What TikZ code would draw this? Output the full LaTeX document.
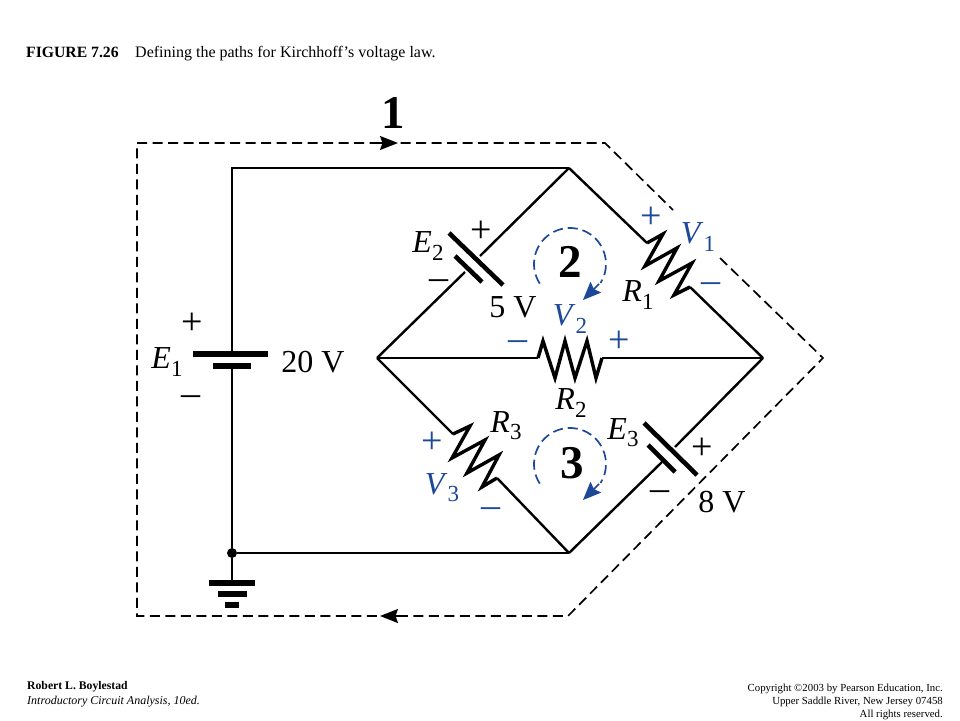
\documentclass[tikz,border=0pt]{standalone}
\usepackage{fontspec}
\setmainfont{Liberation Serif}
\usetikzlibrary{arrows.meta}
\definecolor{loopblue}{RGB}{28,72,152}
\newcommand{\subl}[2]{\textit{#1}\raisebox{-.22em}{\fontsize{23}{23}\selectfont #2}}
\tikzset{
  wire/.style={line width=2.4pt, black},
  zig/.style={line width=3.4pt, black, miter limit=10},
  plate/.style={line width=4.6pt, black},
  thickplate/.style={line width=5.6pt, black},
  pathline/.style={line width=1.7pt, dash pattern=on 10pt off 5.5pt},
  pathtip/.style={line width=1.7pt, -{Stealth[length=18pt,width=14pt,inset=2.5pt]}},
  loopline/.style={line width=1.7pt, loopblue, dash pattern=on 10pt off 5pt},
  looptip/.style={line width=1.7pt, loopblue, -{Stealth[length=18pt,width=15pt,inset=2.5pt]}},
  lbl/.style={inner sep=0pt, font=\fontsize{32}{32}\selectfont},
  sgn/.style={inner sep=0pt, font=\fontsize{38}{38}\selectfont},
  bluelbl/.style={lbl, text=loopblue},
  bluesgn/.style={sgn, text=loopblue},
  num/.style={inner sep=0pt, font=\fontsize{47}{47}\selectfont\bfseries},
  capl/.style={inner sep=0pt, anchor=base west},
  capr/.style={inner sep=0pt, anchor=base east, font=\fontsize{10.8}{11}\selectfont},
}
\begin{document}
\begin{tikzpicture}[x=1pt, y=1pt, yscale=-1]
\useasboundingbox (0,0) rectangle (960,720);
% circuit corners
\coordinate (topl) at (232,168);
\coordinate (top) at (569,168);
\coordinate (right) at (763,358);
\coordinate (bot) at (569,553);
\coordinate (left) at (377,358);
\node[circle, fill, inner sep=0pt, minimum size=10pt] (gnd) at (232,553){};
% E1 and ground
\coordinate (e1a) at (232,354);
\coordinate (e1b) at (232,366);
\coordinate (e1pl) at (193,354);
\coordinate (e1pr) at (268,354);
\coordinate (e1ql) at (213,366);
\coordinate (e1qr) at (251,366);
\coordinate (g0) at (232,583);
\draw[wire] (e1a) -- (topl) -- (top);
\draw[wire] (e1b) -- (gnd) -- (bot);
\draw[thickplate] (e1pl) -- (e1pr);
\draw[thickplate] (e1ql) -- (e1qr);
\draw[wire] (gnd) -- (g0);
\coordinate (g1l) at (209,583);
\coordinate (g1r) at (255,583);
\coordinate (g2l) at (218,594);
\coordinate (g2r) at (247,594);
\coordinate (g3l) at (225,605);
\coordinate (g3r) at (239,605);
\draw[thickplate] (g1l) -- (g1r);
\draw[thickplate] (g2l) -- (g2r);
\draw[thickplate] (g3l) -- (g3r);
% E2
\coordinate (e2a) at (480,256);
\coordinate (e2b) at (465,272);
\draw[wire] (top) -- (e2a);
\draw[wire] (left) -- (e2b);
\coordinate (e2pa) at (449,233);
\coordinate (e2pb) at (503,285);
\coordinate (e2qa) at (455,256);
\coordinate (e2qb) at (482,282);
\draw[plate] (e2pa) -- (e2pb);
\draw[plate] (e2qa) -- (e2qb);
% E3
\coordinate (e3a) at (675,447);
\coordinate (e3b) at (662,462);
\draw[wire] (right) -- (e3a);
\draw[wire] (bot) -- (e3b);
\coordinate (e3pa) at (644,423);
\coordinate (e3pb) at (697,475);
\coordinate (e3qa) at (648,445);
\coordinate (e3qb) at (675,472);
\draw[plate] (e3pa) -- (e3pb);
\draw[plate] (e3qa) -- (e3qb);
% R1
\coordinate (r1a) at (647,243);
\coordinate (r1b) at (690,287);
\draw[wire] (top) -- (r1a);
\draw[wire] (r1b) -- (right);
\draw[zig] (r1a) -- (663,234) -- (645,266) -- (677,248) -- (659,281) -- (692,263) -- (674,295) -- (r1b);
% R2
\coordinate (r2a) at (538,358);
\coordinate (r2b) at (602,358);
\draw[wire] (left) -- (r2a);
\draw[wire] (r2b) -- (right);
\draw[zig] (r2a) -- (543,341) -- (555,378) -- (565,341) -- (575,378) -- (587,341) -- (596,378) -- (r2b);
% R3
\coordinate (r3a) at (453,434);
\coordinate (r3b) at (497,478);
\draw[wire] (left) -- (r3a);
\draw[wire] (r3b) -- (bot);
\draw[zig] (r3a) -- (470,426) -- (452,458) -- (485,440) -- (467,473) -- (499,455) -- (482,487) -- (r3b);
% outer path
\coordinate (p1) at (137,143);
\coordinate (p2) at (605,143);
\coordinate (p3) at (673,210);
\coordinate (p4) at (720,258);
\coordinate (p5) at (823,358);
\coordinate (p6) at (568,616);
\coordinate (p7) at (137,616);
\draw[pathline] (p4) -- (p5) -- (p6) -- (p7) -- (p1) -- (p2) -- (p3);
\coordinate (t1a) at (378,143);
\coordinate (t1b) at (398,143);
\coordinate (t2a) at (400,616);
\coordinate (t2b) at (380,616);
\draw[pathtip] (t1a) -- (t1b);
\draw[pathtip] (t2a) -- (t2b);
% inner loops
\coordinate (lp2) at (570,264);
\coordinate (lp3) at (570,464);
\coordinate (tail2) at (599,284);
\coordinate (tail3) at (599,484);
\coordinate (tip2) at (583,300);
\coordinate (tip3) at (583,500);
\draw[loopline] (lp2) ++(147:36pt) arc[start angle=147, end angle=392, radius=36pt];
\draw[loopline] (lp3) ++(147:36pt) arc[start angle=147, end angle=392, radius=36pt];
\draw[looptip] (tail2) -- (tip2);
\draw[looptip] (tail3) -- (tip3);
% labels
\node[num] (n1) at (393,113){1};
\node[num] (n2) at (570,262){2};
\node[num] (n3) at (572,463){3};
\node[lbl] (le1) at (167,362){\subl{E}{1}};
\node[lbl] (v1) at (313,362){20 V};
\node[sgn] (pe1) at (192,324){+};
\node[sgn] (me1) at (191,400.5){–};
\node[lbl] (le2) at (428,246){\subl{E}{2}};
\node[lbl] (v2) at (513,307){5 V};
\node[sgn] (pe2) at (481,232){+};
\node[sgn] (me2) at (439,284.5){–};
\node[lbl] (le3) at (623,433){\subl{E}{3}};
\node[lbl] (v3) at (722,502){8 V};
\node[sgn] (pe3) at (702,449){+};
\node[sgn] (me3) at (660,495.5){–};
\node[lbl] (lr1) at (638,295){\subl{R}{1}};
\node[lbl] (lr2) at (571,403){\subl{R}{2}};
\node[lbl] (lr3) at (506,426){\subl{R}{3}};
\node[bluelbl] (lv1) at (698,237){\subl{V}{1}};
\node[bluesgn] (pv1) at (651,218){+};
\node[bluesgn] (mv1) at (711,287.5){–};
\node[bluelbl] (lv2) at (570,319){\subl{V}{2}};
\node[bluesgn] (pv2) at (619,342){+};
\node[bluesgn] (mv2) at (518,345.5){–};
\node[bluelbl] (lv3) at (442,488){\subl{V}{3}};
\node[bluesgn] (pv3) at (432,443){+};
\node[bluesgn] (mv3) at (491,512.5){–};
% captions
\node[capl, font=\fontsize{15.7}{16}\selectfont\bfseries] (figno) at (26,57){FIGURE 7.26};
\node[capl, font=\fontsize{16}{16}\selectfont] (figtxt) at (135,57){Defining the paths for Kirchhoff’s voltage law.};
\node[capl, font=\fontsize{11.7}{12}\selectfont\bfseries] (auth) at (27,689){Robert L. Boylestad};
\node[capl, font=\fontsize{12}{12}\selectfont\itshape] (book) at (27,704){Introductory Circuit Analysis, 10ed.};
\node[capr] (copy1) at (943,691){Copyright ©2003 by Pearson Education, Inc.};
\node[capr] (copy2) at (943,704){Upper Saddle River, New Jersey 07458};
\node[capr] (copy3) at (943,717){All rights reserved.};
\end{tikzpicture}
\end{document}
